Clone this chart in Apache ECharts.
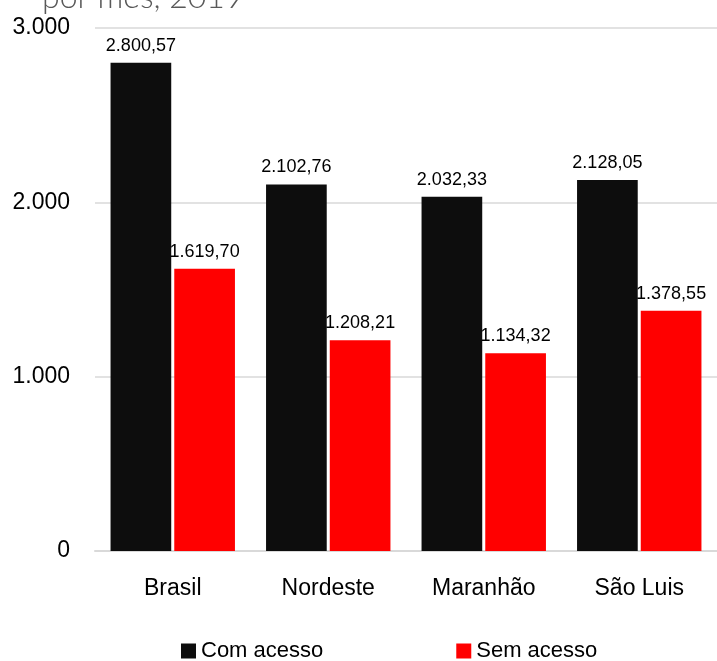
<!DOCTYPE html>
<html>
<head>
<meta charset="utf-8">
<script src="https://cdn.jsdelivr.net/npm/echarts@6/dist/echarts.min.js"></script>
<style>
  html, body { margin: 0; padding: 0; background: #ffffff; }
  #chart { width: 717px; height: 661px; }
</style>
</head>
<body>
<div id="chart"></div>
<script>
// Renda por domicílio, com e sem acesso
const categories = ['Brasil', 'Nordeste', 'Maranhão', 'São Luis'];
const comAcesso = [2800.57, 2102.76, 2032.33, 2128.05];
const semAcesso = [1619.70, 1208.21, 1134.32, 1378.55];
const seriesNames = ['Com acesso', 'Sem acesso'];
const yTicks = [0, 1000, 2000, 3000];

// pt-BR number formatting: "." thousands, "," decimals
function fmt(v, decimals) {
  const parts = v.toFixed(decimals).split('.');
  parts[0] = parts[0].replace(/\B(?=(\d{3})+(?!\d))/g, '.');
  return parts.length > 1 ? parts[0] + ',' + parts[1] : parts[0];
}

const sans = '"Liberation Sans", Arial, sans-serif';

const chart = echarts.init(document.getElementById('chart'));
chart.setOption({
  animation: false,
  backgroundColor: '#ffffff',
  graphic: [{
    type: 'text',
    left: 42,
    top: -18,
    style: {
      text: 'por mês, 2019',
      font: '300 32px Lato, "Open Sans", sans-serif',
      fill: '#595959'
    }
  }],
  legend: {
    data: seriesNames,
    left: 181,
    top: 640,
    padding: 0,
    itemWidth: 15,
    itemHeight: 15,
    itemGap: 133,
    icon: 'rect',
    textStyle: { fontFamily: sans, fontSize: 22, color: '#000000' }
  },
  grid: { left: 95, right: -6, top: 28, bottom: 110, containLabel: false },
  xAxis: {
    type: 'category',
    data: categories,
    axisLine: { show: true, lineStyle: { color: '#d9d9d9', width: 2 } },
    axisTick: { show: false },
    axisLabel: { fontFamily: sans, fontSize: 23, color: '#000000', margin: 26 }
  },
  yAxis: {
    type: 'value',
    min: yTicks[0],
    max: yTicks[yTicks.length - 1],
    interval: 1000,
    axisLine: { show: false },
    axisTick: { show: false },
    splitLine: { lineStyle: { color: '#d9d9d9', width: 1.5 } },
    axisLabel: {
      fontFamily: sans, fontSize: 23, color: '#000000', margin: 25,
      formatter: v => fmt(v, 0)
    }
  },
  series: [
    {
      name: seriesNames[0],
      type: 'bar',
      data: comAcesso,
      barGap: '5%',
      barCategoryGap: '20%',
      itemStyle: { color: '#0d0d0d' },
      label: {
        show: true, position: 'top', distance: 8,
        fontFamily: sans, fontSize: 18, color: '#000000',
        formatter: p => fmt(p.value, 2)
      }
    },
    {
      name: seriesNames[1],
      type: 'bar',
      data: semAcesso,
      itemStyle: { color: '#ff0000' },
      label: {
        show: true, position: 'top', distance: 8,
        fontFamily: sans, fontSize: 18, color: '#000000',
        formatter: p => fmt(p.value, 2)
      }
    }
  ]
});
</script>
</body>
</html>
